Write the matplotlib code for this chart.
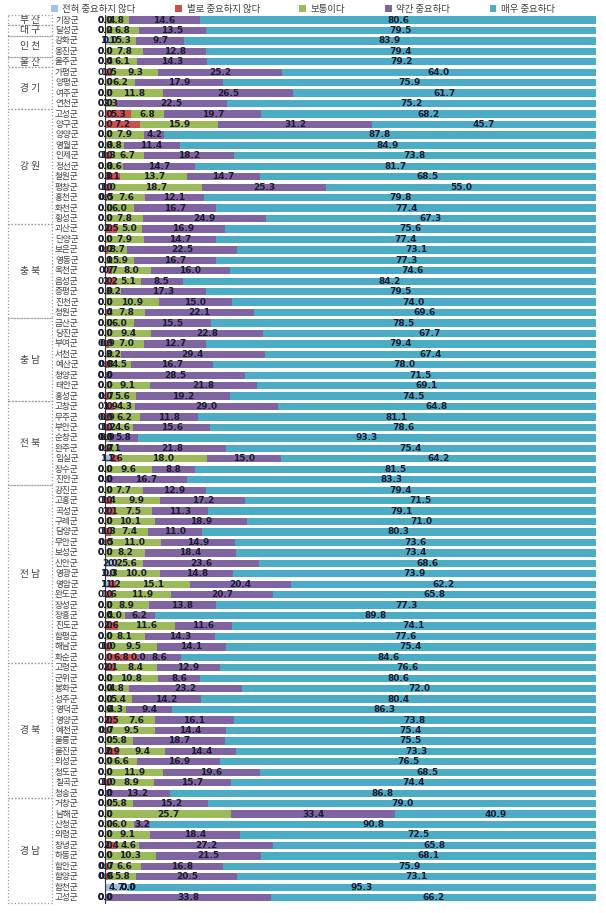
import matplotlib.pyplot as plt
from matplotlib.patches import Rectangle
import matplotlib.transforms as mtransforms

plt.rcParams['font.family'] = ['Noto Sans CJK KR', 'DejaVu Sans']

series_names = ['전혀 중요하지 않다', '별로 중요하지 않다', '보통이다', '약간 중요하다', '매우 중요하다']
colors = ['#9DC3E6', '#C9504D', '#9BBB59', '#8064A2', '#4BACC6']

groups = ['부 산', '대 구', '인 천', '울 산', '경 기', '강 원', '충 북', '충 남', '전 북', '전 남', '경 북', '경 남']
group_sizes = [1, 1, 2, 1, 4, 11, 9, 8, 8, 17, 13, 10]

counties = [
    '기장군', '달성군', '강화군', '옹진군', '울주군',
    '가평군', '양평군', '여주군', '연천군',
    '고성군', '양구군', '양양군', '영월군', '인제군', '정선군', '철원군', '평창군', '홍천군', '화천군', '횡성군',
    '괴산군', '단양군', '보은군', '영동군', '옥천군', '음성군', '증평군', '진천군', '청원군',
    '금산군', '당진군', '부여군', '서천군', '예산군', '청양군', '태안군', '홍성군',
    '고창군', '무주군', '부안군', '순창군', '완주군', '임실군', '장수군', '진안군',
    '강진군', '고흥군', '곡성군', '구례군', '담양군', '무안군', '보성군', '신안군', '영광군', '영암군',
    '완도군', '장성군', '장흥군', '진도군', '함평군', '해남군', '화순군',
    '고령군', '군위군', '봉화군', '성주군', '영덕군', '영양군', '예천군', '울릉군', '울진군', '의성군',
    '청도군', '칠곡군', '청송군',
    '거창군', '남해군', '산청군', '의령군', '창녕군', '하동군', '함안군', '함양군', '합천군', '고성군',
]

not_at_all = [
    0.0, 0.0, 1.1, 0.0, 0.0,
    0.0, 0.0, 0.0, 0.0,
    0.0, 0.0, 0.0, 0.0, 0.0, 0.0, 0.0, 0.0, 0.0, 0.0, 0.0,
    0.0, 0.0, 0.0, 0.0, 0.7, 0.0, 0.0, 0.0, 0.0,
    0.0, 0.0, 0.0, 0.0, 0.0, 0.0, 0.0, 0.0,
    0.0, 0.0, 0.0, 0.0, 0.0, 1.2, 0.0, 0.0,
    0.0, 0.0, 0.0, 0.0, 0.0, 0.0, 0.0, 2.0, 1.0, 1.1,
    0.0, 0.0, 0.0, 0.0, 0.0, 0.0, 0.0,
    0.0, 0.0, 0.0, 0.0, 0.0, 0.0, 0.0, 0.0, 0.0, 0.0,
    0.0, 0.0, 0.0,
    0.0, 0.0, 0.0, 0.0, 0.0, 0.0, 0.0, 0.0, 4.7, 0.0,
]
not_much = [
    0.0, 0.2, 0.0, 0.0, 0.4,
    1.5, 0.0, 0.0, 0.0,
    5.3, 7.2, 0.0, 0.0, 1.3, 0.0, 3.1, 1.0, 0.5, 0.0, 0.0,
    2.5, 0.0, 0.7, 0.1, 0.7, 2.2, 0.0, 0.0, 0.4,
    0.0, 0.0, 0.9, 0.0, 0.8, 0.0, 0.0, 0.7,
    1.9, 0.9, 1.2, 0.0, 0.7, 1.6, 0.0, 0.0,
    0.0, 1.4, 2.1, 0.0, 1.3, 0.5, 0.0, 0.2, 0.3, 1.2,
    1.6, 0.0, 0.0, 2.6, 0.0, 1.0, 6.8,
    2.1, 0.0, 0.0, 0.0, 0.0, 2.5, 0.7, 0.0, 2.9, 0.0,
    0.0, 1.0, 0.0,
    0.0, 0.0, 0.0, 0.0, 2.4, 0.0, 0.7, 0.6, 0.0, 0.0,
]
neutral = [
    4.8, 6.8, 5.3, 7.8, 6.1,
    9.3, 6.2, 11.8, 2.3,
    6.8, 15.9, 7.9, 3.8, 6.7, 3.6, 13.7, 18.7, 7.6, 6.0, 7.8,
    5.0, 7.9, 3.7, 5.9, 8.0, 5.1, 3.2, 10.9, 7.8,
    6.0, 9.4, 7.0, 3.2, 4.5, 0.0, 9.1, 5.6,
    4.3, 6.2, 4.6, 0.9, 2.1, 18.0, 9.6, 0.0,
    7.7, 9.9, 7.5, 10.1, 7.4, 11.0, 8.2, 5.6, 10.0, 15.1,
    11.9, 8.9, 4.0, 11.6, 8.1, 9.5, 0.0,
    8.4, 10.8, 4.8, 5.4, 4.3, 7.6, 9.5, 5.8, 9.4, 6.6,
    11.9, 8.9, 0.0,
    5.8, 25.7, 6.0, 9.1, 4.6, 10.3, 6.6, 5.8, 0.0, 0.0,
]
somewhat = [
    14.6, 13.5, 9.7, 12.8, 14.3,
    25.2, 17.9, 26.5, 22.5,
    19.7, 31.2, 4.2, 11.4, 18.2, 14.7, 14.7, 25.3, 12.1, 16.7, 24.9,
    16.9, 14.7, 22.5, 16.7, 16.0, 8.5, 17.3, 15.0, 22.1,
    15.5, 22.8, 12.7, 29.4, 16.7, 28.5, 21.8, 19.2,
    29.0, 11.8, 15.6, 5.8, 21.8, 15.0, 8.8, 16.7,
    12.9, 17.2, 11.3, 18.9, 11.0, 14.9, 18.4, 23.6, 14.8, 20.4,
    20.7, 13.8, 6.2, 11.6, 14.3, 14.1, 8.6,
    12.9, 8.6, 23.2, 14.2, 9.4, 16.1, 14.4, 18.7, 14.4, 16.9,
    19.6, 15.7, 13.2,
    15.2, 33.4, 3.2, 18.4, 27.2, 21.5, 16.8, 20.5, 0.0, 33.8,
]
very = [
    80.6, 79.5, 83.9, 79.4, 79.2,
    64.0, 75.9, 61.7, 75.2,
    68.2, 45.7, 87.8, 84.9, 73.8, 81.7, 68.5, 55.0, 79.8, 77.4, 67.3,
    75.6, 77.4, 73.1, 77.3, 74.6, 84.2, 79.5, 74.0, 69.6,
    78.5, 67.7, 79.4, 67.4, 78.0, 71.5, 69.1, 74.5,
    64.8, 81.1, 78.6, 93.3, 75.4, 64.2, 81.5, 83.3,
    79.4, 71.5, 79.1, 71.0, 80.3, 73.6, 73.4, 68.6, 73.9, 62.2,
    65.8, 77.3, 89.8, 74.1, 77.6, 75.4, 84.6,
    76.6, 80.6, 72.0, 80.4, 86.3, 73.8, 75.4, 75.5, 73.3, 76.5,
    68.5, 74.4, 86.8,
    79.0, 40.9, 90.8, 72.5, 65.8, 68.1, 75.9, 73.1, 95.3, 66.2,
]

values = [not_at_all, not_much, neutral, somewhat, very]
n = len(counties)
y = list(range(n))

fig = plt.figure(figsize=(6.06, 9.13), dpi=100)
ax = fig.add_axes([105 / 606, 0.0111, 491 / 606, 0.9727])

left = [0.0] * n
for name, vals, color in zip(series_names, values, colors):
    ax.barh(y, vals, left=left, height=0.7, color=color, label=name)
    for i in range(n):
        ax.text(left[i] + vals[i] / 2, i, f"{vals[i]:.1f}", ha='center', va='center',
                fontsize=6.5, fontweight='bold', color='#1c1c30', family='DejaVu Sans')
    left = [a + b for a, b in zip(left, vals)]

ax.set_xlim(0, 100)
ax.set_ylim(n - 0.5, -0.5)
ax.set_xticks([])
ax.set_yticks([])
for s in ['top', 'right', 'bottom']:
    ax.spines[s].set_visible(False)
ax.spines['left'].set_color('#333333')
ax.spines['left'].set_linewidth(0.8)

# county names
trans = mtransforms.blended_transform_factory(fig.transFigure, ax.transData)
for i, c in enumerate(counties):
    ax.text(55 / 606, i, c, transform=trans, ha='left', va='center',
            fontsize=6.2, color='#404040', clip_on=False)

# province boxes
start = 0
for g, size in zip(groups, group_sizes):
    top = start - 0.5
    rect = Rectangle((8 / 606, top), 44 / 606, size, transform=trans, fill=False,
                     edgecolor='#9a9a9a', linestyle=':', linewidth=0.9, clip_on=False)
    ax.add_patch(rect)
    ax.text(30 / 606, start + (size - 1) / 2, g, transform=trans, ha='center', va='center',
            fontsize=7, color='#404040', clip_on=False)
    start += size

fig.legend(loc='upper center', bbox_to_anchor=(0.5, 1.004), ncol=5, frameon=False,
           fontsize=6.8, handlelength=0.7, handleheight=0.7, handletextpad=0.5,
           columnspacing=4.2, labelcolor='#404040')

fig.savefig('out.png', dpi=100)
